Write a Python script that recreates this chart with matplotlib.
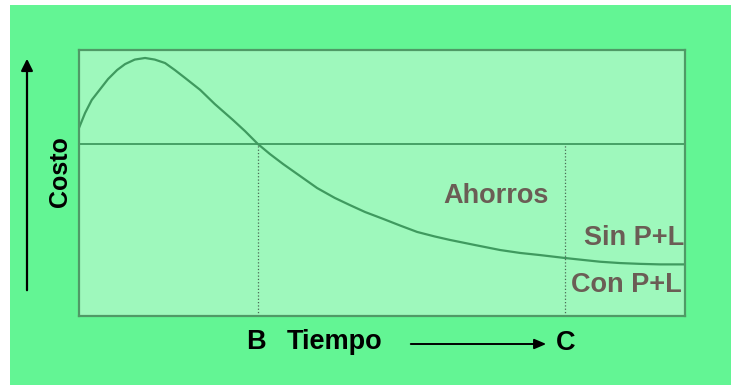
import matplotlib.pyplot as plt
from matplotlib.patches import Rectangle, FancyArrowPatch

# curva de costo (tiempo 0-10, costo 0-10)
tiempo = [0, 0.10, 0.21, 0.35, 0.48, 0.63, 0.76, 0.92, 1.09, 1.25, 1.42, 1.58,
          1.75, 2.00, 2.24, 2.54, 2.74, 2.95, 3.15, 3.37, 3.65, 3.93, 4.22, 4.47,
          4.72, 5.02, 5.30, 5.58, 5.87, 6.12, 6.53, 6.95, 7.28, 7.61, 8.02, 8.35,
          8.60, 8.93, 9.26, 9.59, 10]
costo = [7.07, 7.63, 8.12, 8.53, 8.91, 9.25, 9.47, 9.64, 9.70, 9.64, 9.51, 9.25,
         8.95, 8.50, 7.97, 7.37, 6.95, 6.47, 6.09, 5.71, 5.26, 4.81, 4.44, 4.17,
         3.91, 3.65, 3.40, 3.16, 2.99, 2.86, 2.67, 2.48, 2.37, 2.29, 2.18, 2.10,
         2.04, 1.99, 1.96, 1.94, 1.94]
nivel = 6.47          # costo sin P+L
t_b, t_c = 2.95, 8.02 # puntos B y C
etiquetas = ['Ahorros', 'Sin P+L', 'Con P+L']

W, H = 731, 385
fondo = '#63f594'
relleno = '#9ef8bc'
borde = '#4f9a66'
linea = '#3f9a5f'
texto = '#6b5d55'

plt.rcParams['font.family'] = ['Liberation Sans', 'DejaVu Sans']

fig = plt.figure(figsize=(W / 100, H / 100), dpi=100, facecolor=fondo)

def fx(px):
    return px / W

def fy(py):
    return 1 - py / H

# tiras blancas del borde
fig.add_artist(Rectangle((0, 0), fx(10), 1, transform=fig.transFigure, color='white', lw=0))
fig.add_artist(Rectangle((0, fy(5)), 1, 1 - fy(5), transform=fig.transFigure, color='white', lw=0))

ax = fig.add_axes([fx(79), fy(316), fx(685) - fx(79), fy(50) - fy(316)])
ax.set_facecolor(relleno)
for s in ax.spines.values():
    s.set_color(borde)
    s.set_linewidth(1.6)
ax.set_xlim(0, 10)
ax.set_ylim(0, 10)
ax.set_xticks([])
ax.set_yticks([])

ax.plot(tiempo, costo, color=linea, lw=1.6, solid_capstyle='round', solid_joinstyle='round')
ax.axhline(nivel, color=linea, lw=1.3)
ax.plot([t_b, t_b], [0, nivel], color='#4a6a55', lw=0.9, ls=':')
ax.plot([t_c, t_c], [0, nivel], color='#4a6a55', lw=0.9, ls=':')

ax.text(6.02, 4.5, etiquetas[0], color=texto, fontsize=19.5, fontweight='bold', va='center', ha='left')
ax.text(9.98, 2.95, etiquetas[1], color=texto, fontsize=19.5, fontweight='bold', va='center', ha='right')
ax.text(8.12, 1.15, etiquetas[2], color=texto, fontsize=19.5, fontweight='bold', va='center', ha='left')

# ejes dibujados con flechas
fig.add_artist(FancyArrowPatch((fx(27), fy(293)), (fx(27), fy(56)), transform=fig.transFigure,
                               arrowstyle='-|>,head_length=7,head_width=3.5', color='black', lw=1.6))
fig.add_artist(FancyArrowPatch((fx(408), fy(344)), (fx(549), fy(344)), transform=fig.transFigure,
                               arrowstyle='-|>,head_length=7,head_width=3', color='black', lw=1.4))

fig.text(fx(60), fy(172), 'Costo', rotation=90, fontsize=18, fontweight='bold', ha='center', va='center')
fig.text(fx(246), fy(342), 'B', fontsize=19.5, fontweight='bold', ha='left', va='center')
fig.text(fx(287), fy(342), 'Tiempo', fontsize=19.5, fontweight='bold', ha='left', va='center')
fig.text(fx(556), fy(343), 'C', fontsize=19.5, fontweight='bold', ha='left', va='center')

fig.savefig('out.png', dpi=100, facecolor=fondo)
